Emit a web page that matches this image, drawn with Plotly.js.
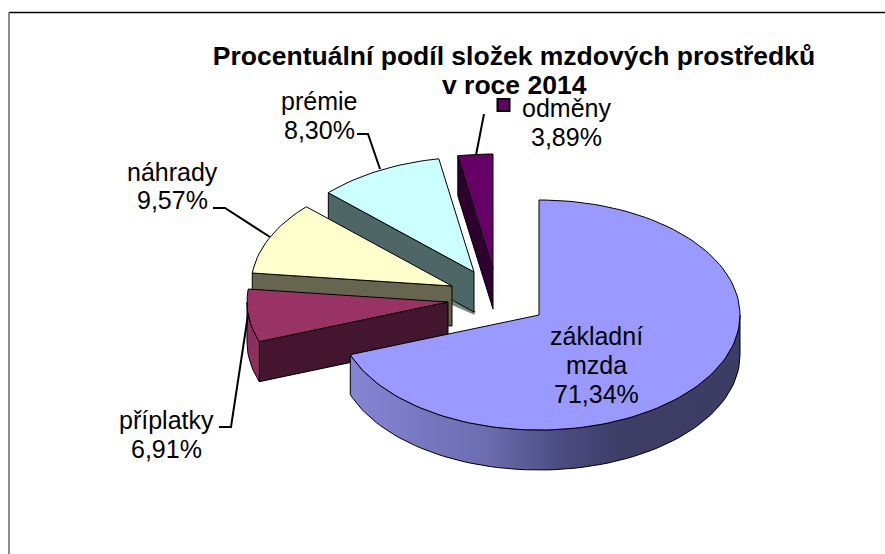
<!DOCTYPE html>
<html><head><meta charset="utf-8">
<script src="https://cdn.plot.ly/plotly-3.0.1.min.js"></script>
<style>html,body{margin:0;padding:0;background:#fff}</style></head>
<body><div id="c" style="width:885px;height:554px"></div>
<script>
// Data: categories and printed percentages
const categories = ["základní mzda","příplatky","náhrady","prémie","odměny"];
const values = [71.34,6.91,9.57,8.30,3.89];
// Wedge sizes as they appear in the tilted picture (percent of the turn)
const drawnShares = [69.4,7.4,10.3,10.1,2.8];
const titleLines = ["Procentuální podíl složek mzdových prostředků","v roce 2014"];

// Styling / layout options
const topColors  = ["#9999ff","#993366","#ffffcc","#ccffff","#660066"];
const wallColors = [null,"#43152f","#666650","#4f6666","#2e002e"];
const rimColors  = [null,"#8c2f5e",null,null,null];
const apexes = [[539,315],[448,302],[452,286],[474,272],[493,269]];
const RX=201, RY=115, DEPTH=40;
const labelPos = [[596,336,29],[166,420,29],[172,172,28],[319,101,29],[566,108,29]];
const leaders = [null,
  {x:[219,231,248],y:[427,427,315]},
  {x:[213,225,270],y:[208,208,237]},
  {x:[357,368,380],y:[134,134,169]},
  {x:[476,484],y:[155,114]}];

const fmt = v => v.toFixed(2).replace('.',',')+'%';
const pt = (a,ang,d=0)=>{const r=ang*Math.PI/180;return [a[0]+RX*Math.sin(r), a[1]-RY*Math.cos(r)+d];};
const arc = (a,s,e,d=0)=>{const n=Math.max(2,Math.ceil(Math.abs(e-s)/2));const o=[];for(let i=0;i<=n;i++)o.push(pt(a,s+(e-s)*i/n,d));return o;};
const poly = (pts,fill,extra={})=>Object.assign({x:[...pts.map(p=>p[0]),pts[0][0]],y:[...pts.map(p=>p[1]),pts[0][1]],
  mode:'lines',fill:'toself',fillcolor:fill,line:{color:'#000',width:1},hoverinfo:'skip',showlegend:false},extra);

const starts=[];let acc=0;drawnShares.forEach(s=>{starts.push(acc);acc+=s*3.6;});
const traces=[];
for(let i=categories.length-1;i>=0;i--){
  const s=starts[i],e=s+drawnShares[i]*3.6,a=apexes[i];
  if(wallColors[i]){
    const p=pt(a,s);
    if(i===3){ // soft shadow under the lower edge of this wall
      traces.push({x:[a[0]-24,a[0]+1],y:[a[1]+DEPTH-10,a[1]+DEPTH+1],mode:'lines',line:{color:'rgba(0,40,20,0.55)',width:4},hoverinfo:'skip',showlegend:false});
    }
    traces.push(poly([a,p,[p[0],p[1]+DEPTH],[a[0],a[1]+DEPTH]],wallColors[i]));
  }
  const rs=Math.max(s,90),re=Math.min(e,270);
  if(re>rs){
    const rim=[...arc(a,rs,re),...arc(a,re,rs,DEPTH)];
    if(i===0){
      traces.push(poly(rim,'#6666aa',{fillgradient:{type:'horizontal',colorscale:[[0,'#8585d5'],[0.35,'#6c6cb0'],[0.55,'#4a4a80'],[0.7,'#3d3d66'],[1,'#3c3c64']]}}));
    } else {
      traces.push(poly(rim,rimColors[i]));
    }
  }
  traces.push(poly([a,...arc(a,s,e)],topColors[i]));
}
// leader lines
leaders.forEach(l=>{if(l)traces.push({x:l.x,y:l.y,mode:'lines',line:{color:'#000',width:2},hoverinfo:'skip',showlegend:false});});
// legend key beside the last label
traces.push({x:[503.5],y:[105],mode:'markers',marker:{symbol:'square',size:12,color:topColors[4],line:{color:'#000',width:2}},hoverinfo:'skip',showlegend:false});

const annotations=[];
categories.forEach((c,i)=>{
  const lines=[...c.split(' '),fmt(values[i])];
  lines.forEach((t,j)=>annotations.push({x:labelPos[i][0],y:labelPos[i][1]+j*labelPos[i][2],xref:'x',yref:'y',text:t,showarrow:false,xanchor:'center',yanchor:'middle',font:{family:'Liberation Sans, Arial, sans-serif',size:25,color:'#000'}}));
});
const titleFont={family:'Liberation Sans, Arial, sans-serif',size:26.5,color:'#000',weight:700};
annotations.push({x:514,y:85,xref:'x',yref:'y',text:titleLines[1],showarrow:false,xanchor:'center',yanchor:'middle',font:titleFont});

Plotly.newPlot('c',traces,{
  width:885,height:554,margin:{l:0,r:0,t:0,b:0},paper_bgcolor:'#fff',plot_bgcolor:'#fff',showlegend:false,
  xaxis:{range:[0,885],visible:false,fixedrange:true},
  yaxis:{range:[554,0],visible:false,fixedrange:true},
  title:{text:titleLines[0],x:514/885,xanchor:'center',y:1-56/554,yanchor:'middle',font:titleFont},
  annotations,
  shapes:[
    {type:'line',xref:'x',yref:'y',x0:9,x1:885,y0:12.5,y1:12.5,line:{color:'#000',width:1.5}},
    {type:'line',xref:'x',yref:'y',x0:9,x1:9,y0:12,y1:554,line:{color:'#666',width:1.5}}
  ]
},{staticPlot:true,displayModeBar:false});
</script></body></html>
